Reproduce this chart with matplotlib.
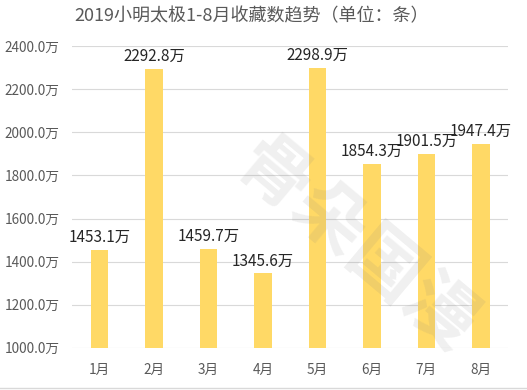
import matplotlib.pyplot as plt
import numpy as np

plt.rcParams['font.family'] = ['Noto Sans CJK SC', 'DejaVu Sans']

months = ['1月', '2月', '3月', '4月', '5月', '6月', '7月', '8月']
values = [1453.1, 2292.8, 1459.7, 1345.6, 2298.9, 1854.3, 1901.5, 1947.4]
yticks = [1000, 1200, 1400, 1600, 1800, 2000, 2200, 2400]

fig = plt.figure(figsize=(5.27, 3.9), dpi=100)
ax = fig.add_axes([0.137, 0.108, 0.827, 0.774])

x = np.arange(len(months))
ax.bar(x, values, width=0.32, color='#FFD966', zorder=3)
for xi, v in zip(x, values):
    ax.text(xi, v + 18, f'{v:.1f}万', ha='center', va='bottom', fontsize=11,
            color='#262626', zorder=4)

ax.set_ylim(1000, 2400)
ax.set_xlim(-0.5, len(months) - 0.5)
ax.set_yticks(yticks)
ax.set_yticklabels([f'{t:.1f}万' for t in yticks])
ax.set_xticks(x)
ax.set_xticklabels(months)
ax.tick_params(length=0, labelsize=9.8, colors='#595959')
ax.tick_params(axis='y', pad=9)
ax.tick_params(axis='x', pad=11)
ax.grid(axis='y', color='#D9D9D9', linewidth=0.8, zorder=0)
for s in ax.spines.values():
    s.set_visible(False)

# faint watermark
fig.text(0.675, 0.37, '骨朵国漫', fontsize=52, color='#808080', alpha=0.12,
         rotation=-40, ha='center', va='center', fontweight='bold')

fig.text(0.477, 0.958, '2019小明太极1-8月收藏数趋势（单位：条）', ha='center',
         va='center', fontsize=13, color='#595959')

# bottom border of the chart area
fig.add_artist(plt.Line2D([0, 1], [0.006, 0.006], color='#D9D9D9', linewidth=1))

fig.savefig('out.png', dpi=100)
